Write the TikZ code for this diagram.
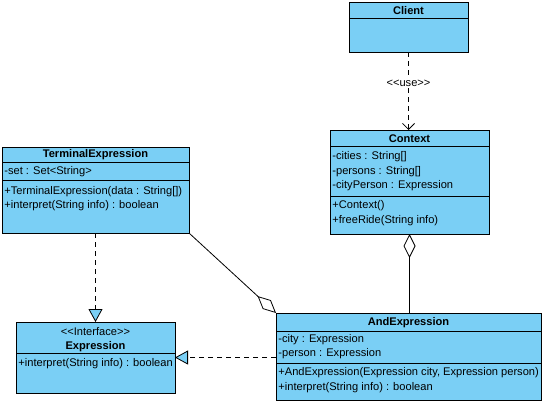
\documentclass[tikz,border=0pt]{standalone}
\usepackage{fontspec}
\setmainfont{Liberation Sans}
\usetikzlibrary{arrows.meta}
\definecolor{umlblue}{RGB}{122,207,245}
\newcommand{\umlfont}{\fontsize{11.1}{12}\selectfont}

\begin{document}
\begin{tikzpicture}[x=1pt, y=-1pt, line width=0.8pt, font=\umlfont,
    umlclass/.style={draw, fill=umlblue, anchor=north west, inner sep=0pt, outer sep=0pt},
    member/.style={anchor=west, inner sep=0pt},
    classname/.style={font=\umlfont\bfseries, inner sep=0pt},
    dep/.style={dash pattern=on 5pt off 4pt}]%
    \useasboundingbox (0,0) rectangle (546,405);
    % Client
    \node (client) [umlclass, minimum width=119pt, minimum height=50pt] at (349,2) {};
    \draw (client.west |- 0,18.7) -- (client.east |- 0,18.7);
    \node (clientname) [classname] at (408.5,10.5) {Client};
    % Context
    \node (context) [umlclass, minimum width=159pt, minimum height=104pt] at (330,130) {};
    \draw (context.west |- 0,146) -- (context.east |- 0,146);
    \draw (context.west |- 0,196) -- (context.east |- 0,196);
    \node (contextname) [classname] at (409.5,138.5) {Context};
    \node (ctxa1) [member] at (332,157) {-cities : String[]};
    \node (ctxa2) [member] at (332,171.5) {-persons : String[]};
    \node (ctxa3) [member] at (332,186) {-cityPerson : Expression};
    \node (ctxm1) [member] at (332,205.5) {+Context()};
    \node (ctxm2) [member] at (332,220.5) {+freeRide(String info)};
    % TerminalExpression
    \node (terminal) [umlclass, minimum width=187pt, minimum height=86pt] at (2,147) {};
    \draw (terminal.west |- 0,162) -- (terminal.east |- 0,162);
    \draw (terminal.west |- 0,180) -- (terminal.east |- 0,180);
    \node (terminalname) [classname] at (95.5,155) {TerminalExpression};
    \node (terma1) [member] at (4,172) {-set : Set<String>};
    \node (termm1) [member] at (4,191.5) {+TerminalExpression(data : String[])};
    \node (termm2) [member] at (4,205.5) {+interpret(String info) : boolean};
    % Expression
    \node (expression) [umlclass, minimum width=159pt, minimum height=71pt] at (16,322) {};
    \draw (expression.west |- 0,353) -- (expression.east |- 0,353);
    \node (exprstereo) [inner sep=0pt] at (95.5,332) {<{}<Interface>{}>};
    \node (exprname) [classname] at (95.5,346.5) {Expression};
    \node (exprm1) [member] at (18,364) {+interpret(String info) : boolean};
    % AndExpression
    \node (andexp) [umlclass, minimum width=265pt, minimum height=87pt] at (276,313) {};
    \draw (andexp.west |- 0,331) -- (andexp.east |- 0,331);
    \draw (andexp.west |- 0,363.5) -- (andexp.east |- 0,363.5);
    \node (andname) [classname] at (408.5,322.5) {AndExpression};
    \node (anda1) [member] at (278,339.5) {-city : Expression};
    \node (anda2) [member] at (278,354) {-person : Expression};
    \node (andm1) [member] at (278,373) {+AndExpression(Expression city, Expression person)};
    \node (andm2) [member] at (278,388) {+interpret(String info) : boolean};
    % relations
    \draw[dep, -{Straight Barb[length=6pt, width=12pt]}] (client.south) -- node [pos=0.4, fill=white, inner sep=1pt] {<{}<use>{}>} (client.south |- context.north);
    \draw[{Diamond[open, length=24pt, width=12pt]}-] (context.south) -- (context.south |- andexp.north);
    \draw[dep, -{Triangle[length=13pt, width=14pt, fill=umlblue]}] (terminal.south) -- (expression.north);
    \draw[dep, -{Triangle[length=13pt, width=14pt, fill=umlblue]}] (andexp.west |- expression.east) -- (expression.east);
    \draw[-{Diamond[open, length=25pt, width=12pt]}] (terminal.south east) -- (andexp.north west);
\end{tikzpicture}
\end{document}
